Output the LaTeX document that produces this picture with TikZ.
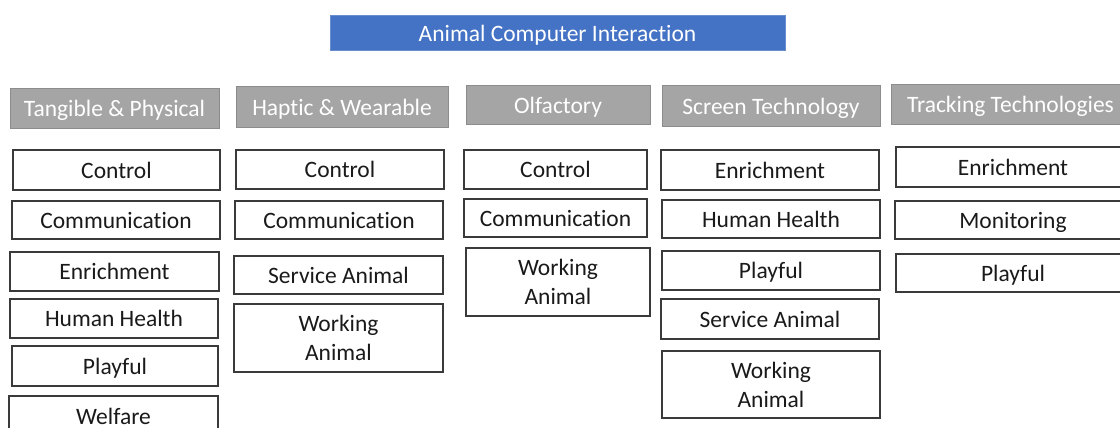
\documentclass[tikz,border=0pt]{standalone}
\usepackage{fontspec}
\setmainfont{Carlito}[Ligatures=NoCommon]
\usepackage{tikz}

\definecolor{aciblue}{HTML}{4472C4}
\definecolor{headgray}{HTML}{A5A5A5}
\definecolor{headline}{HTML}{8C8C8C}
\definecolor{leafline}{HTML}{3A3A3A}
\definecolor{leaftext}{HTML}{1A1A1A}

\begin{document}
\begin{tikzpicture}[x=1pt, y=-1pt,
	root/.style={fill=aciblue, draw=aciblue!80!white, text=white, inner sep=0pt, text depth=0pt},
	head/.style={fill=headgray, draw=headline, line width=1pt, text=white, inner sep=0pt, text depth=0pt},
	leaf/.style={fill=white, draw=leafline, line width=1.2pt, text=leaftext, inner sep=0pt, text depth=0pt, align=center},
	every node/.style={font=\fontsize{23.5}{29}\selectfont}]

	\useasboundingbox (0,0) rectangle (1120,428);

	% Root
	\node[root, minimum width=455, minimum height=35] (aci) at (557.5,33) {Animal Computer Interaction};

	% Category headers
	\node[head, minimum width=209, minimum height=39] (tangible) at (114.5,108.5) {Tangible \& Physical};
	\node[head, minimum width=212, minimum height=40] (haptic) at (342,107) {Haptic \& Wearable};
	\node[head, minimum width=184, minimum height=38] (olfactory) at (558,105) {Olfactory};
	\node[head, minimum width=218, minimum height=40] (screen) at (771,106) {Screen Technology};
	\node[head, minimum width=239, minimum height=39] (tracking) at (1010.5,104.5) {Tracking Technologies};

	% Tangible & Physical
	\node[leaf, minimum width=207, minimum height=40] (tp1) at (116.5,170) {Control};
	\node[leaf, minimum width=208, minimum height=38] (tp2) at (116,220) {Communication};
	\node[leaf, minimum width=209, minimum height=39] (tp3) at (114.5,271.5) {Enrichment};
	\node[leaf, minimum width=208, minimum height=39] (tp4) at (114,318.5) {Human Health};
	\node[leaf, minimum width=206, minimum height=40] (tp5) at (115,366) {Playful};
	\node[leaf, minimum width=209, minimum height=40] (tp6) at (113.5,416) {Welfare};

	% Haptic & Wearable
	\node[leaf, minimum width=208, minimum height=39] (hw1) at (340,169.5) {Control};
	\node[leaf, minimum width=208, minimum height=38] (hw2) at (339,220) {Communication};
	\node[leaf, minimum width=209, minimum height=38] (hw3) at (338.5,275) {Service Animal};
	\node[leaf, minimum width=209, minimum height=68] (hw4) at (338.5,338) {Working\\Animal};

	% Olfactory
	\node[leaf, minimum width=183, minimum height=39] (ol1) at (555.5,169.5) {Control};
	\node[leaf, minimum width=183, minimum height=38] (ol2) at (555.5,218) {Communication};
	\node[leaf, minimum width=184, minimum height=68] (ol3) at (558,282) {Working\\Animal};

	% Screen Technology
	\node[leaf, minimum width=218, minimum height=40] (st1) at (770,170) {Enrichment};
	\node[leaf, minimum width=218, minimum height=38] (st2) at (771,219) {Human Health};
	\node[leaf, minimum width=218, minimum height=39] (st3) at (771,270.5) {Playful};
	\node[leaf, minimum width=218, minimum height=40] (st4) at (770,319) {Service Animal};
	\node[leaf, minimum width=218, minimum height=67] (st5) at (771,384.5) {Working\\Animal};

	% Tracking Technologies
	\node[leaf, minimum width=234, minimum height=40] (tt1) at (1013,167) {Enrichment};
	\node[leaf, minimum width=236, minimum height=38] (tt2) at (1013,220) {Monitoring};
	\node[leaf, minimum width=234, minimum height=38] (tt3) at (1013,273) {Playful};

\end{tikzpicture}
\end{document}
